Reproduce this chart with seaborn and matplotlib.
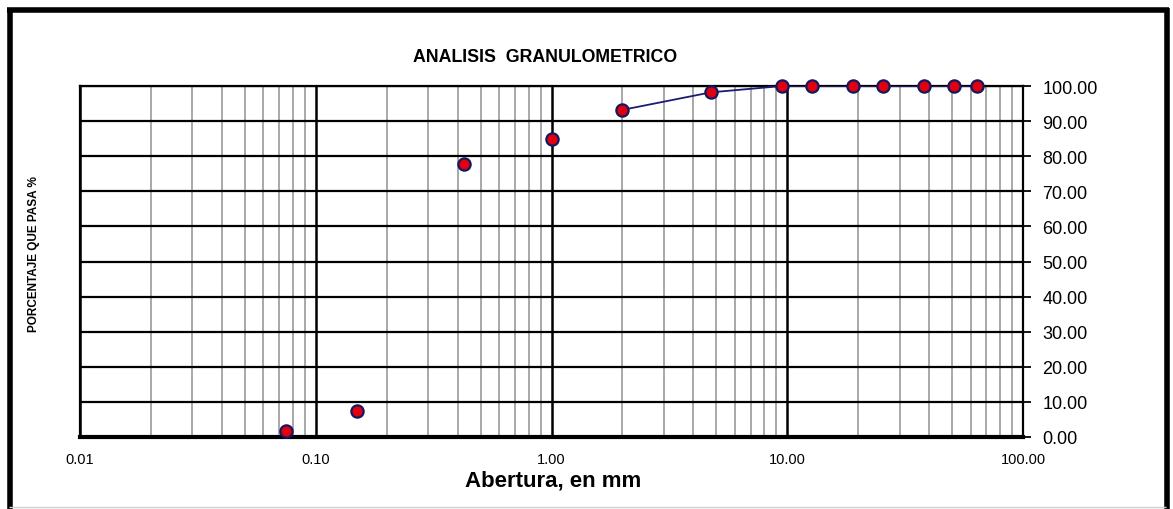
import matplotlib
matplotlib.use("Agg")
import matplotlib.pyplot as plt
import seaborn as sns
import numpy as np
import pandas as pd
from matplotlib.ticker import LogLocator, FixedLocator, FuncFormatter, NullFormatter
from matplotlib.lines import Line2D

# ---- data ----
abertura_mm = [63.5, 50.8, 38.1, 25.4, 19.05, 12.7, 9.525, 4.75, 2.0, 1.0, 0.425, 0.15, 0.075]
porcentaje_pasa = [100.0, 100.0, 100.0, 100.0, 100.0, 100.0, 100.0, 98.2, 93.2, 84.9, 77.9, 7.4, 1.8]
# the curve line is drawn only through the coarse sieves (as in the reference)
n_linea = 9
x_ticks = [0.01, 0.1, 1.0, 10.0, 100.0]
y_ticks = [0, 10, 20, 30, 40, 50, 60, 70, 80, 90, 100]
titulo = "ANALISIS  GRANULOMETRICO"
x_label = "Abertura, en mm"
y_label = "PORCENTAJE QUE PASA %"

df = pd.DataFrame({"abertura": abertura_mm, "pasa": porcentaje_pasa})
df_line = df.iloc[:n_linea].sort_values("abertura")

sns.set_style("white")
plt.rcParams["font.family"] = ["Liberation Sans", "DejaVu Sans"]
plt.rcParams["text.color"] = "black"
plt.rcParams["xtick.color"] = "black"
plt.rcParams["ytick.color"] = "black"

W, H = 1173, 510
fig = plt.figure(figsize=(W / 100, H / 100), dpi=100)
fig.patch.set_facecolor("white")
ax = fig.add_axes([80 / W, (H - 438) / H, (1023 - 80) / W, (438 - 87) / H])

sns.lineplot(data=df_line, x="abertura", y="pasa", ax=ax, color="#1c1c72",
             linewidth=1.3, sort=True, zorder=4)
sns.scatterplot(data=df, x="abertura", y="pasa", ax=ax, s=78, color="#e00010",
                edgecolor="#17175e", linewidth=1.6, zorder=6, clip_on=False)

ax.set_xscale("log")
ax.set_xlim(0.01, 100)
ax.set_ylim(0, 100)

ax.xaxis.set_major_locator(FixedLocator(x_ticks))
ax.xaxis.set_major_formatter(FuncFormatter(lambda v, p: f"{v:.2f}"))
ax.xaxis.set_minor_locator(LogLocator(base=10, subs=np.arange(2, 10)))
ax.xaxis.set_minor_formatter(NullFormatter())
ax.yaxis.set_major_locator(FixedLocator(y_ticks))
ax.yaxis.set_major_formatter(FuncFormatter(lambda v, p: f"{v:.2f}"))
ax.yaxis.tick_right()

ax.grid(which="minor", axis="x", color="#a8a8a8", linewidth=1.4, zorder=1)
ax.grid(which="major", axis="x", color="black", linewidth=1.8, zorder=2)
ax.grid(which="major", axis="y", color="black", linewidth=1.6, zorder=2)
ax.set_axisbelow(True)

ax.tick_params(axis="x", which="major", direction="out", length=5, width=1.3,
               labelsize=10.5, pad=6, colors="black", labelcolor="black")
ax.tick_params(axis="x", which="minor", length=0)
ax.tick_params(axis="y", which="major", direction="out", length=6, width=1.3,
               labelsize=13, pad=8, colors="black", labelcolor="black",
               right=True, left=False, labelright=True, labelleft=False)

for s in ["left", "right", "top"]:
    ax.spines[s].set_color("black")
    ax.spines[s].set_linewidth(1.6)
ax.spines["bottom"].set_color("black")
ax.spines["bottom"].set_linewidth(3)

ax.set_xlabel("")
ax.set_ylabel("")

fig.text(553 / W, 1 - 481 / H, x_label, ha="center", va="center",
         fontsize=16, fontweight="bold", color="black")
fig.text(545 / W, 1 - 57 / H, titulo, ha="center", va="center",
         fontsize=12.8, fontweight="bold", color="black")
fig.text(34 / W, 1 - 254 / H, y_label, ha="center", va="center",
         rotation=90, fontsize=8.5, fontweight="bold", color="black")

# outer frame
def fline(x0, y0, x1, y1, lw, color="black"):
    fig.add_artist(Line2D([x0 / W, x1 / W], [1 - y0 / H, 1 - y1 / H],
                          color=color, linewidth=lw, solid_capstyle="butt"))

fline(7, 10.5, 1169, 10.5, 4)
fline(9.5, 9, 9.5, 510, 4)
fline(1166.5, 9, 1166.5, 510, 4)
fline(9, 507.5, 1166, 507.5, 1, "#d0d0d0")

fig.savefig("out.png", dpi=100, facecolor="white")
